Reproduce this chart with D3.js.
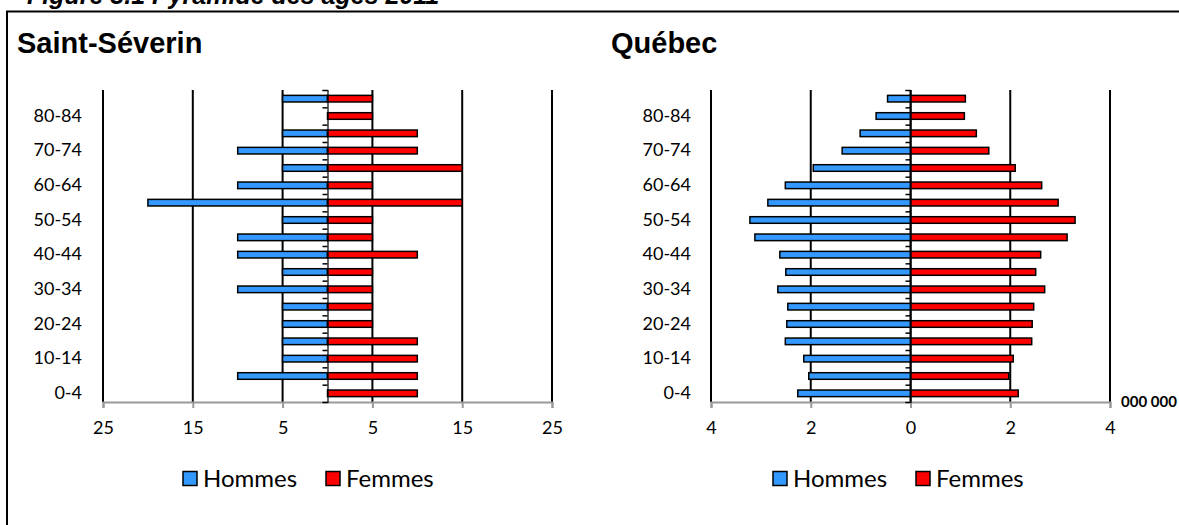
<!DOCTYPE html>
<html>
<head>
<meta charset="utf-8">
<script src="https://cdn.jsdelivr.net/npm/d3@7"></script>
<style>
  body { margin: 0; background: #fff; }
  svg { display: block; }
</style>
</head>
<body>
<div id="chart"></div>
<script>
// tranches d'age, du bas vers le haut
var ageGroups = ['0-4', '5-9', '10-14', '15-19', '20-24', '25-29', '30-34', '35-39', '40-44',
  '45-49', '50-54', '55-59', '60-64', '65-69', '70-74', '75-79', '80-84', '85+'];
var ageLabels = ['0-4', '10-14', '20-24', '30-34', '40-44', '50-54', '60-64', '70-74', '80-84'];

var stSeverinHommes = [0, 10, 5, 5, 5, 5, 10, 5, 10, 10, 5, 20, 10, 5, 10, 5, 0, 5];
var stSeverinFemmes = [10, 10, 10, 10, 5, 5, 5, 5, 10, 5, 5, 15, 5, 15, 10, 10, 5, 5];
var stSeverinTicks = [-25, -15, -5, 5, 15, 25];

var quebecHommes = [2.26, 2.04, 2.14, 2.51, 2.48, 2.46, 2.66, 2.50, 2.62, 3.12, 3.22, 2.86, 2.51, 1.95, 1.37, 1.01, 0.69, 0.46];
var quebecFemmes = [2.16, 1.97, 2.06, 2.43, 2.44, 2.47, 2.69, 2.51, 2.61, 3.14, 3.30, 2.96, 2.63, 2.10, 1.57, 1.32, 1.08, 1.10];
var quebecTicks = [-4, -2, 0, 2, 4];

var seriesNames = ['Hommes', 'Femmes'];
var colors = { Hommes: '#3399ff', Femmes: '#ff0000' };

var W = 1179, H = 525;
var axisFont = 'Lato, "Open Sans", sans-serif';

var svg = d3.select('#chart').append('svg')
  .attr('width', W)
  .attr('height', H);

// titre de la figure (coupe en haut, comme dans l'original)
svg.append('text')
  .attr('x', 27)
  .attr('y', 4)
  .attr('font-family', '"Liberation Sans", Arial, sans-serif')
  .attr('font-size', 25)
  .attr('font-weight', 'bold')
  .attr('font-style', 'italic')
  .text('Figure 3.1  Pyramide des âges 2011');

// cadre
svg.append('rect')
  .attr('x', 7)
  .attr('y', 11.5)
  .attr('width', W + 20)
  .attr('height', H + 20)
  .attr('fill', 'none')
  .attr('stroke', '#000')
  .attr('stroke-width', 2);

function drawPyramid(cfg) {
  var g = svg.append('g');
  var top = 90, bottom = 402;

  g.append('text')
    .attr('x', cfg.titleX)
    .attr('y', 53)
    .attr('font-family', '"Liberation Sans", Arial, sans-serif')
    .attr('font-size', 29)
    .attr('font-weight', 'bold')
    .text(cfg.title);

  var x = d3.scaleLinear()
    .domain([cfg.ticks[0], cfg.ticks[cfg.ticks.length - 1]])
    .range([cfg.x0, cfg.x1]);

  var y = d3.scaleBand()
    .domain(ageGroups)
    .range([bottom, top])
    .paddingInner(0.62)
    .paddingOuter(0.31);

  // quadrillage vertical
  g.append('g')
    .selectAll('line')
    .data(cfg.ticks)
    .join('line')
    .attr('x1', function(d) { return x(d); })
    .attr('x2', function(d) { return x(d); })
    .attr('y1', top)
    .attr('y2', bottom)
    .attr('stroke', '#000')
    .attr('stroke-width', 2);

  // axe horizontal (gris)
  var xAxis = g.append('g')
    .attr('transform', 'translate(0,' + bottom + ')')
    .call(d3.axisBottom(x)
      .tickValues(cfg.ticks)
      .tickSize(6)
      .tickPadding(13)
      .tickFormat(function(d) { return Math.abs(d); }));
  xAxis.select('.domain')
    .attr('stroke', '#999')
    .attr('stroke-width', 2);
  xAxis.selectAll('.tick line')
    .attr('stroke', '#999')
    .attr('stroke-width', 2);
  xAxis.selectAll('.tick text')
    .attr('font-family', axisFont)
    .attr('font-size', 18)
    .attr('fill', '#000');

  // barres
  var rows = ageGroups.map(function(a, i) {
    return { age: a, Hommes: cfg.hommes[i], Femmes: cfg.femmes[i] };
  });

  g.append('g')
    .selectAll('rect')
    .data(rows)
    .join('rect')
    .attr('x', function(d) { return x(-d.Hommes); })
    .attr('y', function(d) { return y(d.age); })
    .attr('width', function(d) { return x(0) - x(-d.Hommes); })
    .attr('height', y.bandwidth())
    .attr('fill', colors.Hommes)
    .attr('stroke', '#000')
    .attr('stroke-width', 1.5)
    .attr('display', function(d) { return d.Hommes > 0 ? null : 'none'; });

  g.append('g')
    .selectAll('rect')
    .data(rows)
    .join('rect')
    .attr('x', x(0))
    .attr('y', function(d) { return y(d.age); })
    .attr('width', function(d) { return x(d.Femmes) - x(0); })
    .attr('height', y.bandwidth())
    .attr('fill', colors.Femmes)
    .attr('stroke', '#000')
    .attr('stroke-width', 1.5);

  // axe vertical au zero, petites graduations entre les tranches
  var yb = d3.scaleLinear().domain([0, ageGroups.length]).range([bottom, top]);
  var zeroAxis = g.append('g')
    .attr('transform', 'translate(' + x(0) + ',0)')
    .call(d3.axisLeft(yb).ticks(ageGroups.length).tickSize(5).tickFormat(''));
  zeroAxis.select('.domain').attr('stroke', '#000').attr('stroke-width', 1.2);
  zeroAxis.selectAll('.tick line').attr('stroke', '#000').attr('stroke-width', 1.5);

  // etiquettes des tranches
  var labels = g.append('g')
    .attr('transform', 'translate(' + cfg.labelX + ',0)')
    .call(d3.axisLeft(y).tickValues(ageLabels).tickSize(0).tickPadding(0));
  labels.select('.domain').remove();
  labels.selectAll('.tick text')
    .attr('font-family', axisFont)
    .attr('font-size', 18)
    .attr('fill', '#000');

  if (cfg.unit) {
    g.append('text')
      .attr('x', cfg.x1 + 11)
      .attr('y', 407)
      .attr('font-family', axisFont)
      .attr('font-size', 15)
      .attr('font-weight', 'bold')
      .text(cfg.unit);
  }

  // legende
  var leg = g.append('g')
    .attr('transform', 'translate(' + cfg.legendX + ',470)');
  var item = leg.selectAll('g')
    .data(seriesNames)
    .join('g')
    .attr('transform', function(d, i) { return 'translate(' + (i * 143) + ',0)'; });
  item.append('rect')
    .attr('x', 1)
    .attr('y', 1.5)
    .attr('width', 14)
    .attr('height', 14)
    .attr('fill', function(d) { return colors[d]; })
    .attr('stroke', '#000')
    .attr('stroke-width', 1.5);
  item.append('text')
    .attr('x', 21)
    .attr('y', 16.5)
    .attr('font-family', axisFont)
    .attr('font-size', 24)
    .attr('fill', '#000')
    .text(function(d) { return d; });
}

drawPyramid({
  title: 'Saint-Séverin',
  titleX: 17,
  hommes: stSeverinHommes,
  femmes: stSeverinFemmes,
  ticks: stSeverinTicks,
  x0: 103, x1: 552,
  labelX: 82,
  legendX: 182
});

drawPyramid({
  title: 'Québec',
  titleX: 611,
  hommes: quebecHommes,
  femmes: quebecFemmes,
  ticks: quebecTicks,
  x0: 711, x1: 1110,
  labelX: 691,
  legendX: 772,
  unit: '000 000'
});
</script>
</body>
</html>
